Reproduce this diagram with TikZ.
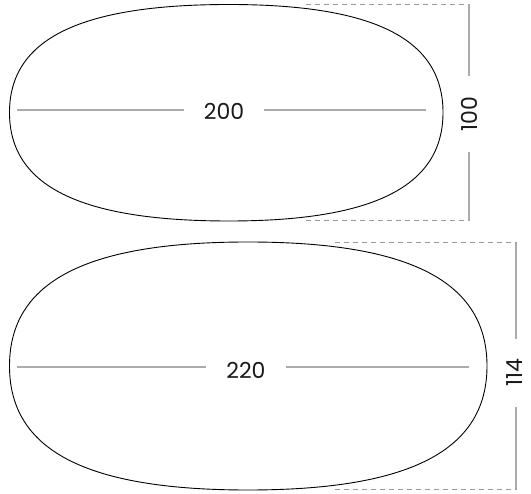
\documentclass[tikz,border=0pt]{standalone}
\usepackage{fontspec}
\setmainfont{Poppins}
\usepackage{tikz}
\usetikzlibrary{positioning,calc}

\begin{document}
\begin{tikzpicture}[
    x=1pt, y=-1pt,
    outline/.style={draw=black, line width=0.9pt},
    dimline/.style={draw=black!33, line width=1.3pt},
    guide/.style={draw=black!40, line width=0.9pt, dash pattern=on 5pt off 4pt},
    dimlabel/.style={font=\fontsize{22}{22}\selectfont, inner xsep=20pt, inner ysep=0pt, text=black!90}
]
    \useasboundingbox (0,0) rectangle (531,494);

    % Upper table 200 x 100
    \coordinate (l1) at (9.5,112.5);
    \coordinate (t1) at (229,4.5);
    \coordinate (r1) at (443,112.5);
    \coordinate (b1) at (229,221);
    \draw[outline] (l1) .. controls (9.5,39.1) and (79.7,4.5) .. (t1)
        .. controls (374.5,4.5) and (443,39.1) .. (r1)
        .. controls (443,185.9) and (374.5,221) .. (b1)
        .. controls (79.7,221) and (9.5,185.9) .. cycle;

    \node[dimlabel] (w1) at (224,111) {200};
    \coordinate (w1a) at (17,110);
    \coordinate (w1b) at (426,110);
    \draw[dimline] (w1a) -- (w1a -| w1.west);
    \draw[dimline] (w1b) -- (w1b -| w1.east);

    \node[dimlabel, rotate=90] (h1) at (469,114) {100};
    \coordinate (h1a) at (469,4);
    \coordinate (h1b) at (469,221);
    \draw[dimline] (h1a) -- (h1a |- h1.east);
    \draw[dimline] (h1b) -- (h1b |- h1.west);
    \coordinate (g1a) at (306,4.5);
    \coordinate (g1b) at (306,220);
    \draw[guide] (g1a) -- (g1a -| h1a);
    \draw[guide] (g1b) -- (g1b -| h1b);

    % Lower table 220 x 114
    \coordinate (l2) at (9.5,366);
    \coordinate (t2) at (248,242);
    \coordinate (r2) at (487,366);
    \coordinate (b2) at (248,490);
    \draw[outline] (l2) .. controls (9.5,281.7) and (85.8,242) .. (t2)
        .. controls (410.2,242) and (487,281.7) .. (r2)
        .. controls (487,450.3) and (410.2,490) .. (b2)
        .. controls (85.8,490) and (9.5,450.3) .. cycle;

    \node[dimlabel] (w2) at (246,370) {220};
    \coordinate (w2a) at (17,367);
    \coordinate (w2b) at (469,367);
    \draw[dimline] (w2a) -- (w2a -| w2.west);
    \draw[dimline] (w2b) -- (w2b -| w2.east);

    \node[dimlabel, rotate=90] (h2) at (515,373) {114};
    \coordinate (h2a) at (516,242);
    \coordinate (h2b) at (516,490);
    \draw[dimline] (h2a) -- (h2a |- h2.east);
    \draw[dimline] (h2b) -- (h2b |- h2.west);
    \coordinate (g2a) at (335,242);
    \coordinate (g2b) at (335,489);
    \draw[guide] (g2a) -- (g2a -| h2a);
    \draw[guide] (g2b) -- (g2b -| h2b);
\end{tikzpicture}
\end{document}
